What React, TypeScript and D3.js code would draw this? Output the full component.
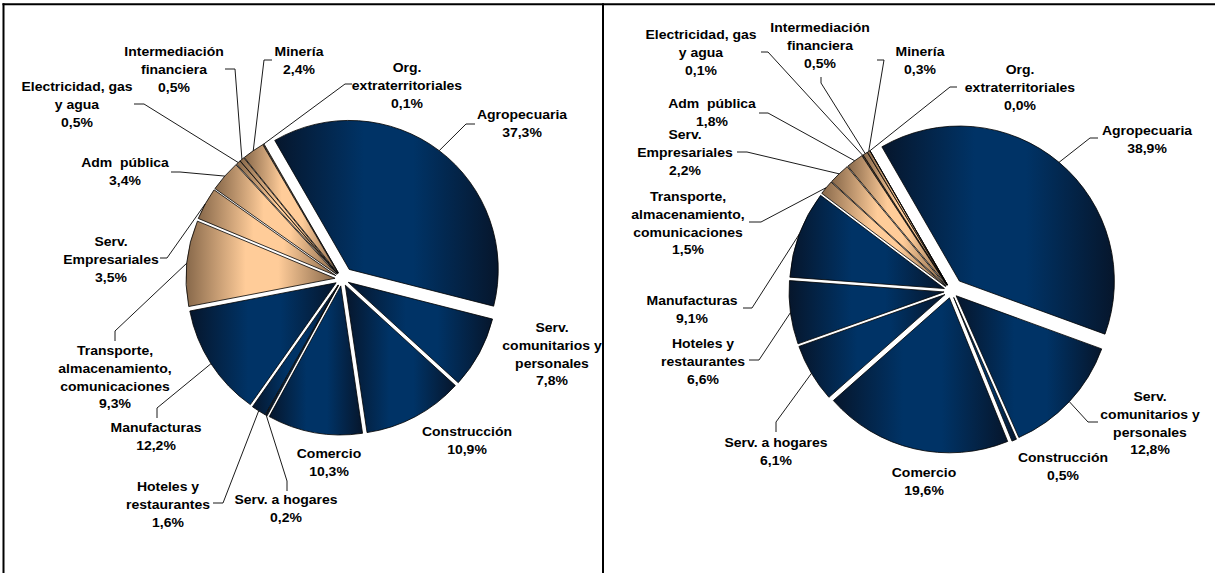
import React from "react";
import * as d3 from "d3";

// ---------- data ----------
const categories = [
  "Agropecuaria",
  "Serv. comunitarios y personales",
  "Construcción",
  "Comercio",
  "Serv. a hogares",
  "Hoteles y restaurantes",
  "Manufacturas",
  "Transporte, almacenamiento, comunicaciones",
  "Serv. Empresariales",
  "Adm pública",
  "Electricidad, gas y agua",
  "Intermediación financiera",
  "Minería",
  "Org. extraterritoriales",
];
const categoryLines = [
  ["Agropecuaria"],
  ["Serv.", "comunitarios y", "personales"],
  ["Construcción"],
  ["Comercio"],
  ["Serv. a hogares"],
  ["Hoteles y", "restaurantes"],
  ["Manufacturas"],
  ["Transporte,", "almacenamiento,", "comunicaciones"],
  ["Serv.", "Empresariales"],
  ["Adm  pública"],
  ["Electricidad, gas", "y agua"],
  ["Intermediación", "financiera"],
  ["Minería"],
  ["Org.", "extraterritoriales"],
];
const sharesLeft = [37.3, 7.8, 10.9, 10.3, 0.2, 1.6, 12.2, 9.3, 3.5, 3.4, 0.5, 0.5, 2.4, 0.1];
const sharesRight = [38.9, 12.8, 0.5, 19.6, 6.1, 6.6, 9.1, 1.5, 2.2, 1.8, 0.1, 0.5, 0.3, 0.0];
const colorGroup = ["a", "a", "a", "a", "a", "a", "a", "b", "b", "b", "b", "b", "b", "b"];

// ---------- layout (label positions, leader elbows) ----------
type Lab = { x: number; y: number; leader?: [number, number][] };
const layoutLeft: Lab[] = [
  { x: 522, y: 115, leader: [[466, 124], [475, 124]] },
  { x: 552, y: 328 },
  { x: 467, y: 432 },
  { x: 329, y: 454 },
  { x: 286, y: 500, leader: [[287, 481], [287, 491]] },
  { x: 168, y: 487, leader: [[223, 503], [213, 503]] },
  { x: 156, y: 428, leader: [[157, 408], [157, 418]] },
  { x: 115, y: 351, leader: [[115, 331], [115, 341]] },
  { x: 111, y: 242, leader: [[167, 258], [160, 258]] },
  { x: 125, y: 163, leader: [[180, 172], [171, 172]] },
  { x: 77, y: 87, leader: [[144, 104], [134, 104]] },
  { x: 174, y: 52, leader: [[235, 69], [225, 69]] },
  { x: 299, y: 52, leader: [[264, 60], [272, 60]] },
  { x: 407, y: 68, leader: [[345, 84], [352, 84]] },
];
const layoutRight: Lab[] = [
  { x: 1147, y: 131, leader: [[1090, 138], [1098, 138]] },
  { x: 1150, y: 397, leader: [[1088, 422], [1098, 422]] },
  { x: 1063, y: 458 },
  { x: 924, y: 473 },
  { x: 776, y: 443, leader: [[776, 422], [776, 432]] },
  { x: 703, y: 344, leader: [[759, 360], [749, 360]] },
  { x: 692, y: 301, leader: [[752, 308], [743, 308]] },
  { x: 688, y: 197, leader: [[761, 222], [749, 222]] },
  { x: 685, y: 135, leader: [[747, 152], [737, 152]] },
  { x: 712, y: 104, leader: [[768, 113], [759, 113]] },
  { x: 701, y: 35, leader: [[768, 52], [761, 52]] },
  { x: 820, y: 28, leader: [[821, 83], [821, 77]] },
  { x: 920, y: 52, leader: [[884, 60], [877, 60]] },
  { x: 1020, y: 70, leader: [[950, 87], [957, 87]] },
];

const W = 1215;
const H = 573;
const FONT = "'Liberation Sans', Arial, Helvetica, sans-serif";
const LINE_H = 17.7;
const colors: Record<string, [string, string]> = {
  a: ["#06162c", "#003366"],
  b: ["#87684a", "#ffcc99"],
};
const fmt = (v: number) => d3.format(".1f")(v).replace(".", ",") + "%";

type PieProps = {
  id: string;
  cx: number;
  cy: number;
  r: number;
  values: number[];
  layout: Lab[];
  explodeMain: number;
};

function Pie({ id, cx, cy, r, values, layout, explodeMain }: PieProps) {
  const start = -Math.PI / 6;
  const pie = d3
    .pie<number>()
    .sort(null)
    .value((d) => d)
    .startAngle(start)
    .endAngle(start + 2 * Math.PI);
  const arcs = pie(values);
  const arcGen = d3.arc<d3.PieArcDatum<number>>().innerRadius(0).outerRadius(r);
  const explode = (i: number) => (i === 0 ? explodeMain : 7);

  return (
    <g>
      <defs>
        {arcs.map((a, i) => {
          const [dark, light] = colors[colorGroup[i]];
          return (
            <linearGradient key={i} id={`${id}-g${i}`} x1="0" y1="0" x2="1" y2="0">
              <stop offset="0" stopColor={dark} />
              <stop offset="0.4" stopColor={light} />
              <stop offset="0.62" stopColor={light} />
              <stop offset="1" stopColor={dark} />
            </linearGradient>
          );
        })}
      </defs>
      {arcs.map((a, i) => {
        const mid = (a.startAngle + a.endAngle) / 2;
        const e = explode(i);
        const dx = cx + e * Math.sin(mid);
        const dy = cy - e * Math.cos(mid);
        return (
          <path
            key={i}
            d={arcGen(a) || ""}
            transform={`translate(${dx},${dy})`}
            fill={`url(#${id}-g${i})`}
            stroke="#000"
            strokeWidth={0.8}
            strokeLinejoin="round"
          />
        );
      })}
      {arcs.map((a, i) => {
        const L = layout[i];
        if (!L.leader) return null;
        const mid = (a.startAngle + a.endAngle) / 2;
        const rr = r + explode(i);
        const p0: [number, number] = [cx + rr * Math.sin(mid), cy - rr * Math.cos(mid)];
        const line = d3.line()([p0, ...L.leader]);
        return <path key={i} d={line || ""} fill="none" stroke="#000" strokeWidth={0.9} />;
      })}
      {arcs.map((a, i) => {
        const L = layout[i];
        const lines = [...categoryLines[i], fmt(values[i])];
        return (
          <g key={i}>
            {lines.map((t, k) => (
              <text
                key={k}
                transform={`translate(${L.x},${L.y + k * LINE_H}) scale(1.11,1)`}
                textAnchor="middle"
                dominantBaseline="central"
                fontFamily={FONT}
                fontWeight="bold"
                fontSize={12.6}
                fill="#000"
                style={{ whiteSpace: "pre" }}
              >
                {t}
              </text>
            ))}
          </g>
        );
      })}
    </g>
  );
}

export default function App() {
  return (
    <svg
      width={W}
      height={H}
      style={{ position: "fixed", left: 0, top: 0, background: "#fff" }}
      xmlns="http://www.w3.org/2000/svg"
    >
      <rect x={0} y={0} width={W} height={H} fill="#fff" />
      <Pie id="left" cx={342} cy={279} r={149} values={sharesLeft} layout={layoutLeft} explodeMain={12} />
      <Pie id="right" cx={951} cy={291} r={155} values={sharesRight} layout={layoutRight} explodeMain={13} />
      <line x1={2.5} x2={W} y1={4.3} y2={4.3} stroke="#000" strokeWidth={2} />
      <line x1={3.5} x2={3.5} y1={3.3} y2={H} stroke="#000" strokeWidth={2} />
      <line x1={603} x2={603} y1={3.3} y2={H} stroke="#000" strokeWidth={2} />
    </svg>
  );
}
